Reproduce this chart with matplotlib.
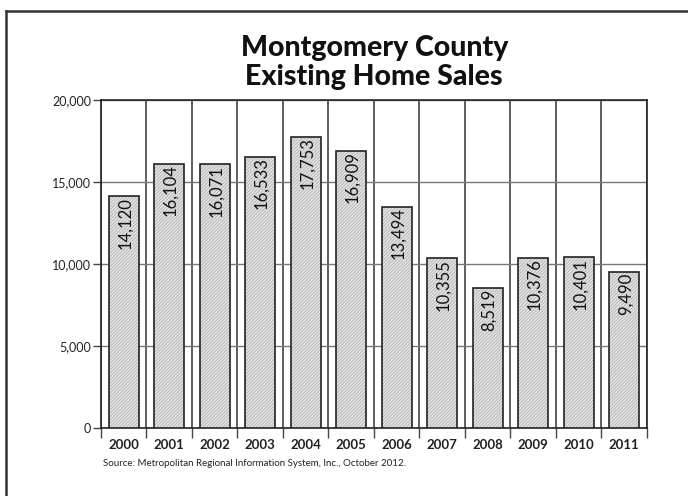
import numpy as np
import matplotlib.pyplot as plt
from matplotlib.lines import Line2D

years = ['2000', '2001', '2002', '2003', '2004', '2005',
         '2006', '2007', '2008', '2009', '2010', '2011']
sales = [14120, 16104, 16071, 16533, 17753, 16909,
         13494, 10355, 8519, 10376, 10401, 9490]
yticks = [0, 5000, 10000, 15000, 20000]
title = 'Montgomery County\nExisting Home Sales'
source = 'Source: Metropolitan Regional Information System, Inc., October 2012.'

plt.rcParams['font.family'] = ['Lato', 'DejaVu Sans']
plt.rcParams['hatch.linewidth'] = 0.5

fig = plt.figure(figsize=(6.88, 4.96), dpi=100)
ax = fig.add_axes([0.1468, 0.1371, 0.7936, 0.6613])

x = np.arange(len(years))
# hatch layer first, then the black outline on top
ax.bar(x, sales, width=0.66, color='#e4e4e4', edgecolor='#a8a8a8',
       hatch='//////////', linewidth=0, zorder=3)
ax.bar(x, sales, width=0.66, facecolor='none', edgecolor='#222222',
       linewidth=1.2, zorder=4)

for xi, v in zip(x, sales):
    ax.text(xi + 0.03, v - 40, f'{v:,}', rotation=90, ha='center', va='top',
            fontsize=12, color='#111111', zorder=5)

ax.set_xlim(-0.5, len(years) - 0.5)
ax.set_ylim(0, 20000)
ax.set_yticks(yticks)
ax.set_yticklabels([f'{t:,}' for t in yticks], fontsize=9, color='#222222')
ax.tick_params(axis='y', length=6, width=1, color='#444444', pad=1)

# category dividers as x ticks and grid
ax.set_xticks(np.arange(len(years) + 1) - 0.5)
ax.set_xticklabels([])
ax.tick_params(axis='x', length=7, width=1, color='#444444')
ax.xaxis.grid(True, color='#333333', linewidth=1.1, zorder=1)
ax.yaxis.grid(True, color='#777777', linewidth=1.0, zorder=1)
ax.set_axisbelow(True)
for xi, yr in zip(x, years):
    ax.text(xi, -0.035, yr, transform=ax.get_xaxis_transform(), ha='center',
            va='top', fontsize=9.5, fontweight='bold', color='#222222')

for s in ax.spines.values():
    s.set_color('#222222')
    s.set_linewidth(1.2)

fig.text(0.544, 0.874, title, ha='center', va='center', fontsize=20.5,
         fontweight='black', color='#111111', linespacing=1.1)
fig.text(0.150, 0.066, source, ha='left', va='center', fontsize=7,
         color='#222222')

# outer frame (left and top edges visible in the crop)
fig.add_artist(Line2D([0.008, 0.008], [0, 0.978], transform=fig.transFigure,
                      color='#333333', linewidth=1.8))
fig.add_artist(Line2D([0.008, 1], [0.978, 0.978], transform=fig.transFigure,
                      color='#333333', linewidth=1.8))

fig.savefig('out.png', dpi=100)
